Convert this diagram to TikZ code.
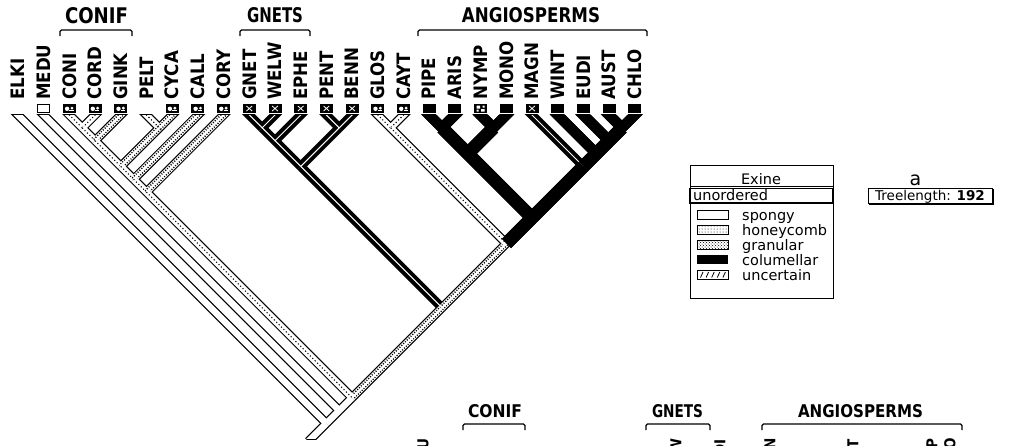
\documentclass[tikz,border=0pt]{standalone}
\usepackage{fontspec}
\usepackage{graphicx}
\setmainfont{DejaVu Sans}
\newfontfamily\labfont{DejaVu Sans Condensed}
\usetikzlibrary{calc,patterns}
\newcommand\termb[3]{\draw[#1] ($(#2)!-14pt!(#3)$) -- (#3);}
\newcommand\intb[3]{\draw[#1] (#2) -- (#3);}
\newcommand\mkn[3]{\coordinate (#1) at ({18+25.7*(#2+#3)/2},{115+25.7*(#3-#2)/2});}
\newcommand\sqat[2]{\pic at ({18+25.7*#2},108.5) {#1};}
\newcommand\alledges[1]{%
\termb{#1sp}{ELKI}{root}
\termb{#1sp}{MEDU}{n124}
\intb{#1sp}{n124}{root}
\intb{#1sp}{root}{foot}
\intb{#1sp}{n224}{n124}
\intb{#1un}{n924}{n224}
\intb{#1un}{n1424}{n924}
\termb{#1hc}{CONI}{n23}
\termb{#1hc}{CORD}{n23}
\intb{#1hc}{n23}{n24}
\termb{#1un}{GINK}{n24}
\intb{#1hc}{n24}{n26}
\termb{#1hc}{PELT}{n56}
\termb{#1un}{CYCA}{n56}
\intb{#1un}{n56}{n26}
\intb{#1hc}{n26}{n27}
\termb{#1un}{CALL}{n27}
\intb{#1hc}{n27}{n28}
\termb{#1un}{CORY}{n28}
\intb{#1hc}{n28}{n224}
\termb{#1gr}{GNET}{n910}
\termb{#1gr}{WELW}{n910}
\intb{#1gr}{n910}{n911}
\termb{#1gr}{EPHE}{n911}
\intb{#1gr}{n911}{n913}
\termb{#1gr}{PENT}{n1213}
\termb{#1gr}{BENN}{n1213}
\intb{#1gr}{n1213}{n913}
\intb{#1gr}{n913}{n924}
\termb{#1hc}{GLOS}{n1415}
\termb{#1hc}{CAYT}{n1415}
\intb{#1hc}{n1415}{n1424}
\termb{#1gr}{MAGN}{n2024}
\termb{#1co}{PIPE}{n1617}
\termb{#1co}{ARIS}{n1617}
\termb{#1co}{NYMP}{n1819}
\termb{#1co}{MONO}{n1819}
\intb{#1cw}{n1617}{n1619}
\intb{#1cw}{n1819}{n1619}
\intb{#1cw}{n1619}{n1624}
\termb{#1co}{WINT}{n2124}
\termb{#1co}{EUDI}{n2224}
\termb{#1co}{AUST}{n2324}
\termb{#1co}{CHLO}{n2324}
\intb{#1cw}{n2324}{n2224}
\intb{#1cw}{n2224}{n2124}
\intb{#1cw}{n2124}{n2024}
\intb{#1cw}{n2024}{n1624}
\intb{#1cw}{n1624}{n1424}
}
\begin{document}
\begin{tikzpicture}[x=1pt,y=-1pt,
  osp/.style={draw=black,line width=9pt},
  ohc/.style={draw=black,line width=9pt},
  oun/.style={draw=black,line width=9pt},
  ogr/.style={draw=black,line width=9pt},
  oco/.style={draw=black,line width=10.5pt},
  ocw/.style={draw=black,line width=13pt},
  isp/.style={draw=white,line width=6.6pt},
  ihc/.style={draw=white,line width=6.6pt,postaction={draw=black,line width=1.1pt,dash pattern=on 1.1pt off 2.3pt}},
  iun/.style={draw=black,line width=5.2pt,dash pattern=on 1pt off 1.6pt,preaction={draw=white,line width=6.6pt,solid},postaction={draw=white,line width=2.2pt,solid}},
  igr/.style={draw=white,line width=1pt},
  ico/.style={draw=black,line width=10.5pt},
  icw/.style={draw=black,line width=13pt},
  lab/.style={rotate=90,anchor=west,inner sep=0pt,font=\labfont\bfseries\fontsize{18.5}{18.5}\selectfont},
  labb/.style={rotate=90,anchor=east,inner sep=0pt,font=\labfont\bfseries\fontsize{15}{15}\selectfont},
  grp/.style={inner sep=0pt,font=\labfont\bfseries},
  brk/.style={line width=1.3pt,rounded corners=1.5pt},
  lg/.style={inner sep=0pt,font=\fontsize{14.5}{15}\selectfont},
  sqsp/.pic={\draw[line width=1pt,fill=white] (-6,-4) rectangle (6,4);},
  sqhc/.pic={\fill (-6.5,-4.5) rectangle (6.5,4.5); \fill[white] (-2.3,0.3) circle (2.2); \fill[white] (2.6,-0.4) circle (1.6); \fill[white] (0,1.6) rectangle (4.3,2.6);},
  sqgr/.pic={\fill (-6.5,-4.5) rectangle (6.5,4.5); \draw[white,line width=0.8pt] (-2.8,-2.5)--(2.8,2.5) (-2.8,2.5)--(2.8,-2.5);},
  sqco/.pic={\fill (-6.5,-4.5) rectangle (6.5,4.5);},
  sqny/.pic={\fill (-6.5,-4.5) rectangle (6.5,4.5); \fill[white] (-4,-3) rectangle (-0.5,0) (0.5,0.5) rectangle (4,3) (-4,1) rectangle (-2,3) (2,-3) rectangle (4,-1);}
]
\useasboundingbox (0,0) rectangle (1030,445);
\clip (0,0) rectangle (1030,445);
\fill[white] (0,0) rectangle (1030,445);

% leaves and labels
\foreach \nm/\i in {ELKI/0,MEDU/1,CONI/2,CORD/3,GINK/4,PELT/5,CYCA/6,CALL/7,CORY/8,GNET/9,WELW/10,EPHE/11,PENT/12,BENN/13,GLOS/14,CAYT/15,PIPE/16,ARIS/17,NYMP/18,MONO/19,MAGN/20,WINT/21,EUDI/22,AUST/23,CHLO/24}{
  \coordinate (\nm) at ({18+25.7*\i},115);
  \node[lab] (t\nm) at ({18+25.7*\i},100) {\nm};
}
% internal nodes
\mkn{root}{0}{24}
\mkn{n124}{1}{24}
\mkn{n224}{2}{24}
\mkn{n23}{2}{3}
\mkn{n24}{2}{4}
\mkn{n56}{5}{6}
\mkn{n26}{2}{6}
\mkn{n27}{2}{7}
\mkn{n28}{2}{8}
\mkn{n910}{9}{10}
\mkn{n911}{9}{11}
\mkn{n1213}{12}{13}
\mkn{n913}{9}{13}
\mkn{n924}{9}{24}
\mkn{n1415}{14}{15}
\mkn{n1424}{14}{24}
\mkn{n1617}{16}{17}
\mkn{n1819}{18}{19}
\mkn{n1619}{16}{19}
\mkn{n1624}{16}{24}
\mkn{n2024}{20}{24}
\mkn{n2124}{21}{24}
\mkn{n2224}{22}{24}
\mkn{n2324}{23}{24}
\coordinate (foot) at ($(root)+(-18,18)$);

% branches: outlines, then interiors
\begin{scope}
  \clip (0,114.3) rectangle (700,439.5);
  \alledges{o}
\end{scope}
\begin{scope}
  \clip (0,115.7) rectangle (700,438.2);
  \alledges{i}
\end{scope}

% terminal state boxes
\sqat{sqsp}{1}
\sqat{sqhc}{2}\sqat{sqhc}{3}\sqat{sqhc}{4}
\sqat{sqhc}{6}\sqat{sqhc}{7}\sqat{sqhc}{8}
\sqat{sqgr}{9}\sqat{sqgr}{10}\sqat{sqgr}{11}\sqat{sqgr}{12}\sqat{sqgr}{13}
\sqat{sqhc}{14}\sqat{sqhc}{15}
\sqat{sqco}{16}\sqat{sqco}{17}\sqat{sqny}{18}\sqat{sqco}{19}
\sqat{sqgr}{20}\sqat{sqco}{21}\sqat{sqco}{22}\sqat{sqco}{23}\sqat{sqco}{24}

% group labels, tree a
\node[grp] (gconif) at (96.5,16) {\resizebox{63pt}{16pt}{CONIF}};
\draw[brk] (60,36) -- (60,30) -- (132,30) -- (132,36);
\node[grp] (ggnets) at (275,15.5) {\resizebox{56pt}{15pt}{GNETS}};
\draw[brk] (240,36) -- (240,30) -- (310,30) -- (310,36);
\node[grp] (gangio) at (531,15.5) {\resizebox{138pt}{15pt}{ANGIOSPERMS}};
\draw[brk] (418,36) -- (418,30) -- (647,30) -- (647,36);

% legend
\draw[line width=1pt] (690,165) rectangle (833,298);
\draw[line width=0.8pt] (690,186) -- (833,186);
\draw[line width=1.6pt] (690,188.5) rectangle (833,203);
\node[lg,anchor=base] (lexine) at (761,184.5) {Exine};
\node[lg,anchor=base west] (lunord) at (693,200.5) {unordered};
\draw[line width=0.9pt] (697,210) rectangle (728,219);
\draw[line width=0.9pt,pattern=dots] (697,225) rectangle (728,234);
\draw[line width=0.9pt,pattern=crosshatch dots] (697,240) rectangle (728,249);
\fill (697,255) rectangle (728,264);
\draw[line width=0.9pt] (697,270) rectangle (728,279);
\foreach \k in {0,...,4} \draw[line width=0.8pt] ({700.5+5.6*\k},277.5) -- ({703+5.6*\k},272);
\node[lg,anchor=base west] (l1) at (742,220.5) {spongy};
\node[lg,anchor=base west] (l2) at (742,235.5) {honeycomb};
\node[lg,anchor=base west] (l3) at (742,250.5) {granular};
\node[lg,anchor=base west] (l4) at (742,265.5) {columellar};
\node[lg,anchor=base west] (l5) at (742,280.5) {uncertain};

% panel label and tree length
\node[inner sep=0pt,anchor=base,font=\fontsize{19}{19}\selectfont] (pa) at (915.5,185) {a};
\draw[line width=1pt] (868,188) rectangle (992,203);
\draw[line width=1pt] (993,189) -- (993,204) -- (869,204);
\node[inner sep=0pt,anchor=base,font=\fontsize{13.5}{13.5}\selectfont] (tl) at (930,200) {Treelength: \textbf{192}};

% second tree (cut off at the bottom)
\node[grp] (bconif) at (495,411.5) {\resizebox{54pt}{13pt}{CONIF}};
\draw[brk] (463,430) -- (463,424) -- (525,424) -- (525,430);
\node[grp] (bgnets) at (677.5,411.5) {\resizebox{51pt}{13pt}{GNETS}};
\draw[brk] (646,430) -- (646,424) -- (710,424) -- (710,430);
\node[grp] (bangio) at (860.5,411.5) {\resizebox{125pt}{13pt}{ANGIOSPERMS}};
\draw[brk] (762,430) -- (762,424) -- (962,424) -- (962,430);
\node[labb] at (423,438) {MEDU};
\node[labb] at (676,438) {WELW};
\node[labb] at (720,439) {EUDI};
\node[labb] at (770,438) {MAGN};
\node[labb] at (853,439) {WINT};
\node[labb] at (932,438) {NYMP};
\node[labb] at (950,438) {CHLO};
\end{tikzpicture}
\end{document}
